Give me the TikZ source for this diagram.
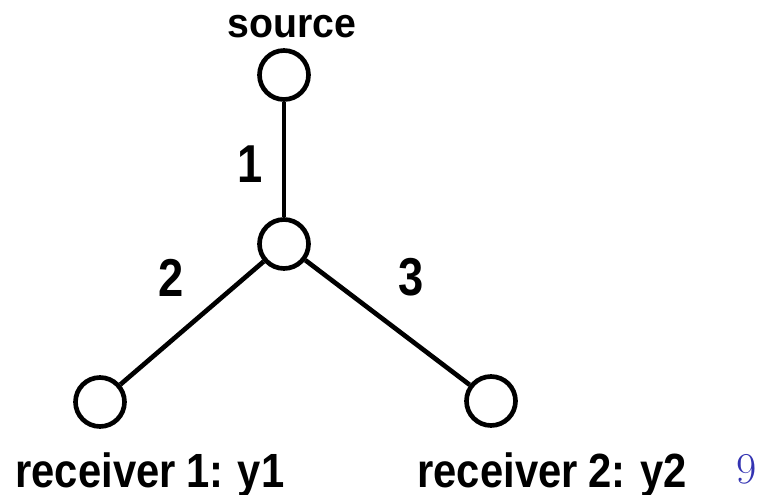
\documentclass[tikz,border=0pt]{standalone}
\usepackage{fontspec}
\newfontfamily\srcfont{Liberation Sans}[FakeStretch=0.95]
\newfontfamily\rxfont{Liberation Sans}[FakeStretch=0.87]
\newfontfamily\numfont{Liberation Sans}[FakeStretch=0.85]
\newcommand\rxstyle{\rxfont\bfseries\fontsize{36}{42}\selectfont\spaceskip 8pt\relax}
\definecolor{pagenum}{rgb}{0.2,0.2,0.7}
\begin{document}
\begin{tikzpicture}[x=0.75pt,y=-0.75pt]
    \tikzstyle{site}=[draw=black,line width=3.5pt,circle,inner sep=0pt,minimum size=36.75pt]
    \tikzstyle{sitename}=[anchor=base,inner sep=0pt,font=\rxstyle]
    \tikzstyle{edgenum}=[anchor=base,inner sep=0pt,font=\numfont\bfseries\fontsize{40}{46}\selectfont]
    \useasboundingbox (0,0) rectangle (759,495);

    \node[site] at (284,75) (src) {};
    \node[site] at (284,244) (hub) {};
    \node[site] at (100,402) (rx1) {};
    \node[site] at (491,401) (rx2) {};

    \draw[line width=3.5pt] (src) -- (hub);
    \draw[line width=3.5pt] (hub) -- (rx1);
    \draw[line width=3.5pt] (hub) -- (rx2);

    \node[sitename,font=\srcfont\bfseries\fontsize{31}{36}\selectfont] at (292,38) (srclabel) {source};
    \node[sitename] at (150,487) (rx1label) {receiver 1: y1};
    \node[sitename] at (552,487) (rx2label) {receiver 2: y2};

    \node[edgenum] at (250,183) (l1) {1};
    \node[edgenum] at (171,296) (l2) {2};
    \node[edgenum] at (411,295) (l3) {3};

    \node[anchor=base,inner sep=0pt,text=pagenum,font=\fontsize{33}{38}\selectfont] at (747,483) (page) {9};
\end{tikzpicture}
\end{document}
